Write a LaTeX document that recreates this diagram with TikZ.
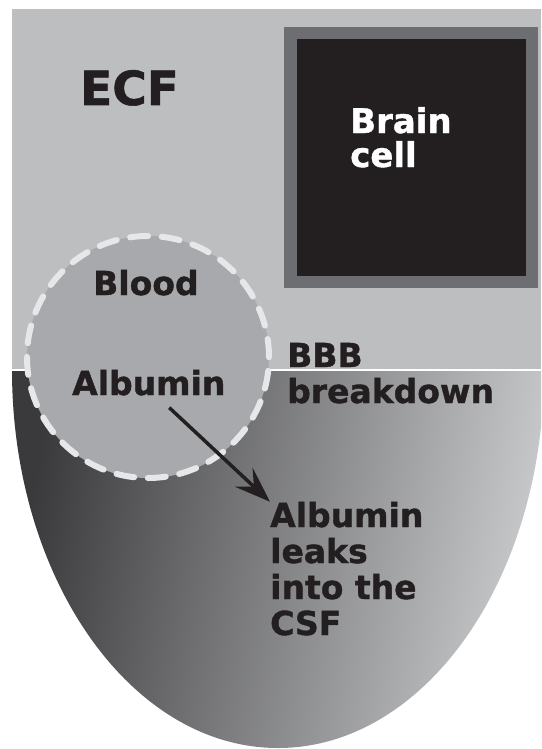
\documentclass[tikz,border=0pt]{standalone}
\usepackage{fontspec}
\setmainfont{DejaVu Sans}[BoldFeatures={FakeBold=1.2}]
\usepackage{tikz}
\usetikzlibrary{arrows.meta,positioning}

\definecolor{ecfgray}{HTML}{BCBEC0}
\definecolor{bloodgray}{HTML}{A7A9AC}
\definecolor{dashwhite}{HTML}{E6E7E8}
\definecolor{cellrim}{HTML}{6D6E71}
\definecolor{cellblack}{HTML}{231F20}
\definecolor{csfdark}{HTML}{3A3A3C}
\definecolor{csflight}{HTML}{CACBCD}

\tikzset{
  lbl/.style={font=\bfseries\fontsize{33}{36}\selectfont, text=cellblack,
    inner sep=0pt, anchor=base west, align=left},
  vessel/.style={circle, fill=bloodgray, draw=dashwhite, line width=6pt,
    dash pattern=on 18pt off 13.67pt, line cap=round, minimum size=242pt},
}

\begin{document}
\begin{tikzpicture}[x=1pt, y=-1pt]
\useasboundingbox (0,0) rectangle (541,749);
\clip (0,0) rectangle (541,749);
\fill[ecfgray] (12,9) rectangle (541,370);
\shade[left color=csfdark, right color=csflight, shading angle=80]
  (12,370) arc[start angle=180, end angle=0, x radius=266, y radius=378] -- cycle;
\draw[white, line width=2pt] (12,370) -- (541,370);

\node[vessel] (blood) at (148,357) {};
\node[draw=cellrim, fill=cellblack, line width=12.5pt, inner sep=0pt,
  minimum width=241.5pt, minimum height=248.5pt] (cell) at (411,157.5) {};

% multi-line labels sit on the baseline of their last line
\node[lbl, font=\bfseries\fontsize{47}{50}\selectfont] (ecf) at (80,105) {ECF};
\node[lbl, font=\bfseries\fontsize{34}{34}\selectfont, text=white] (brain) at (350,167) {Brain\\cell};
\node[lbl] (bloodtxt) at (93,295) {Blood};
\node[lbl] (alb) at (72,395) {Albumin};
\node[lbl] (bbb) at (287,403) {BBB\\breakdown};
\node[lbl] (leak) at (270,635) {Albumin\\leaks\\into the\\CSF};

\draw[cellblack, line width=3.5pt, -{Stealth[length=36pt, width=26pt, inset=14pt]}]
  ([xshift=20.5pt, yshift=-12pt]alb.south) -- (leak.north west);
\end{tikzpicture}
\end{document}
